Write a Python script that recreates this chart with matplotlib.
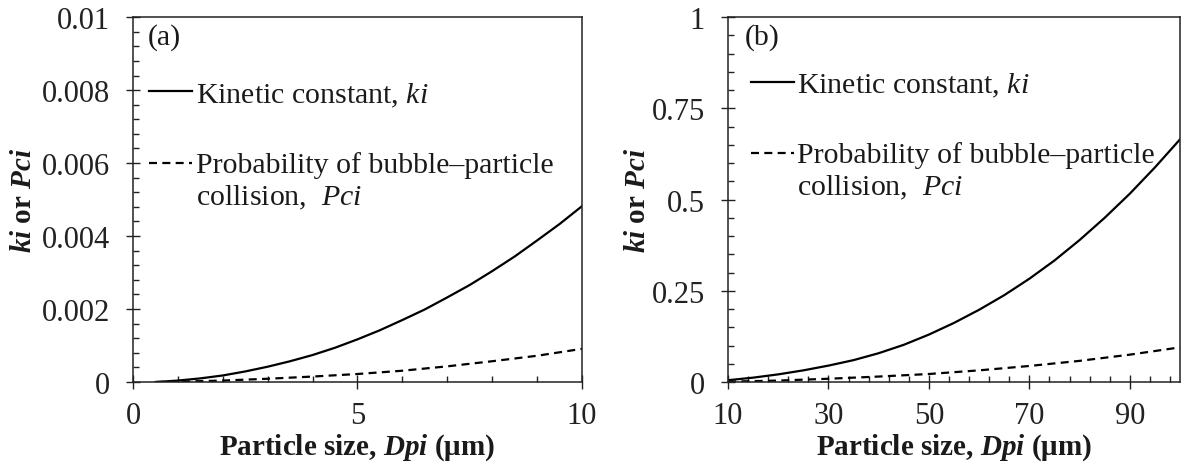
import numpy as np
import matplotlib
matplotlib.use("Agg")
import matplotlib.pyplot as plt
from matplotlib.ticker import MultipleLocator, FixedLocator, FuncFormatter
from matplotlib.legend_handler import HandlerLine2D

plt.rcParams["font.family"] = "Liberation Serif"
plt.rcParams["mathtext.fontset"] = "custom"
plt.rcParams["mathtext.rm"] = "Liberation Serif"
plt.rcParams["mathtext.it"] = "Liberation Serif:italic"
plt.rcParams["mathtext.bf"] = "Liberation Serif:bold"
plt.rcParams["mathtext.bfit"] = "Liberation Serif:bold:italic"

# panel (a): fine particles, 0-10 um
dp_a = [0.5, 1, 1.5, 2, 2.5, 3, 3.5, 4, 4.5, 5, 5.5, 6, 6.5, 7, 7.5, 8, 8.5, 9, 9.5, 10]
ki_a = [0.0, 0.00004, 0.00010, 0.00018, 0.00029, 0.00042, 0.00057, 0.00074, 0.00094,
        0.00117, 0.00142, 0.00170, 0.00199, 0.00232, 0.00266, 0.00304, 0.00344,
        0.00388, 0.00433, 0.00482]
dp_a_pc = [0.5, 1, 2, 3, 4, 5, 6, 7, 8, 9, 10]
pci_a = [0.0, 0.00001, 0.00004, 0.00009, 0.00015, 0.00022, 0.00031, 0.00043,
         0.00057, 0.00072, 0.00091]

# panel (b): coarse particles, 10-100 um
dp_b = [10, 15, 20, 25, 30, 35, 40, 45, 50, 55, 60, 65, 70, 75, 80, 85, 90, 95, 100]
ki_b = [0.005, 0.012, 0.021, 0.032, 0.045, 0.060, 0.079, 0.102, 0.130, 0.162, 0.198,
        0.238, 0.283, 0.333, 0.389, 0.450, 0.516, 0.588, 0.665]
dp_b_pc = [10, 20, 30, 40, 50, 60, 70, 80, 90, 100]
pci_b = [0.001, 0.004, 0.009, 0.015, 0.022, 0.032, 0.044, 0.058, 0.075, 0.095]

label_ki = r"Kinetic constant, $ki$"
label_pc = "Probability of bubble\u2013particle\ncollision,  $Pci$"
ylab = r"$\mathbfit{ki}$ or $\mathbfit{Pci}$"
xlab = "Particle size, $\\mathbfit{Dpi}$ (\u03bcm)"

FS = 21.5
TXT = "#1a1a1a"
DASH = (0, (3.6, 2.4))


class TopLine(HandlerLine2D):
    # put the handle next to the first line of a two-line label
    def __init__(self, shift=0.0, **kw):
        super().__init__(**kw)
        self.shift = shift

    def create_artists(self, legend, orig_handle, xdescent, ydescent, width, height,
                       fontsize, trans):
        arts = super().create_artists(legend, orig_handle, xdescent, ydescent, width,
                                      height, fontsize, trans)
        for a in arts:
            a.set_ydata(np.asarray(a.get_ydata()) + self.shift * fontsize)
        return arts


def style_axes(ax):
    for s in ax.spines.values():
        s.set_linewidth(1.1)
        s.set_color("#222222")
    ax.tick_params(which="major", direction="inout", length=9.5, width=1.0,
                   labelsize=22, colors="#222222")
    ax.tick_params(which="minor", direction="in", length=4.5, width=1.0,
                   colors="#222222")
    ax.tick_params(axis="y", which="major", pad=12)
    ax.tick_params(axis="x", which="major", pad=9)
    ax.yaxis.set_major_formatter(FuncFormatter(lambda v, p: f"{v:g}"))
    ax.set_xlabel(xlab, fontsize=21, fontweight="bold", color=TXT, labelpad=1)


def add_legend(ax, x0, ytop, spacing):
    l1, = ax.plot([], [], color="black", lw=1.6, label=label_ki)
    l2, = ax.plot([], [], color="black", lw=1.6, ls=DASH, label=label_pc)
    leg = ax.legend(handles=[l1, l2], loc="upper left", bbox_to_anchor=(x0, ytop),
                    frameon=False, fontsize=FS, handlelength=1.45, handletextpad=0.12,
                    labelspacing=spacing, borderpad=0, borderaxespad=0,
                    handler_map={l2: TopLine(shift=0.6)})
    for t in leg.get_texts():
        t.set_color(TXT)
        t.set_linespacing(1.2)


fig = plt.figure(figsize=(11.82, 4.77), dpi=100)
ax_a = fig.add_axes([0.1125, 0.197, 0.3799, 0.765])
ax_b = fig.add_axes([0.6159, 0.197, 0.3824, 0.765])

# (a)
ax_a.plot(dp_a, ki_a, color="black", lw=1.6)
ax_a.plot(dp_a_pc, pci_a, color="black", lw=1.6, ls=DASH)
ax_a.set_xlim(0, 10)
ax_a.set_ylim(0, 0.01)
ax_a.xaxis.set_major_locator(MultipleLocator(5))
ax_a.xaxis.set_minor_locator(MultipleLocator(1))
ax_a.yaxis.set_major_locator(MultipleLocator(0.002))
ax_a.yaxis.set_minor_locator(MultipleLocator(0.0004))
style_axes(ax_a)
ax_a.set_ylabel(ylab, fontsize=21, fontweight="bold", color=TXT, labelpad=3)
ax_a.text(0.033, 0.948, "(a)", transform=ax_a.transAxes, fontsize=FS, color=TXT,
          va="center", ha="left")
add_legend(ax_a, 0.035, 0.827, 1.43)

# (b)
ax_b.plot(dp_b, ki_b, color="black", lw=1.6)
ax_b.plot(dp_b_pc, pci_b, color="black", lw=1.6, ls=DASH)
ax_b.set_xlim(10, 100)
ax_b.set_ylim(0, 1)
ax_b.xaxis.set_major_locator(FixedLocator([10, 30, 50, 70, 90]))
ax_b.xaxis.set_minor_locator(FixedLocator(np.arange(10, 101, 4)))
ax_b.yaxis.set_major_locator(MultipleLocator(0.25))
ax_b.yaxis.set_minor_locator(MultipleLocator(0.05))
style_axes(ax_b)
ax_b.set_ylabel(ylab, fontsize=21, fontweight="bold", color=TXT, labelpad=0)
ax_b.text(0.038, 0.948, "(b)", transform=ax_b.transAxes, fontsize=FS, color=TXT,
          va="center", ha="left")
add_legend(ax_b, 0.05, 0.854, 1.43)

fig.savefig("out.png", dpi=100)
